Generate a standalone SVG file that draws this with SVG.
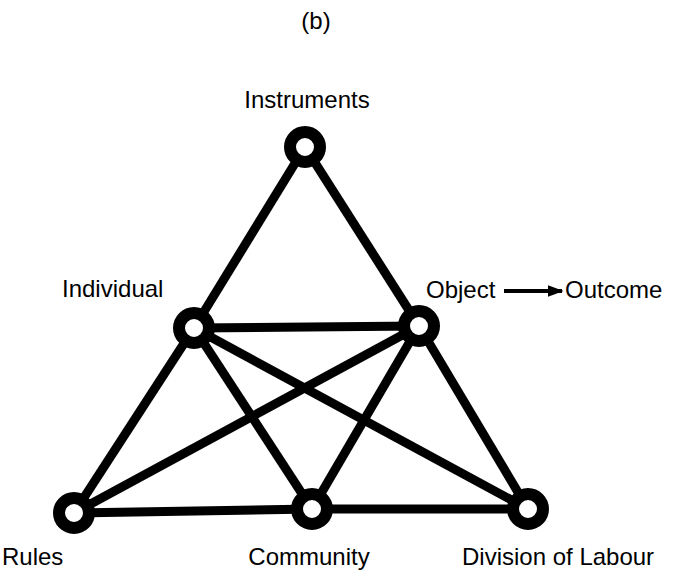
<svg xmlns="http://www.w3.org/2000/svg" width="681" height="572" viewBox="0 0 681 572">
  <style>
    .lbl { font-family: "Liberation Sans", Arial, sans-serif; font-size: 24px; fill: #000; }
    .edge { stroke: #000; stroke-width: 9; stroke-linecap: butt; fill: none; }
    .node { fill: #fff; stroke: #000; stroke-width: 12; }
  </style>
  <defs>
    <marker id="arrowhead" markerWidth="4" markerHeight="3" refX="3.6" refY="1.5" orient="auto" markerUnits="strokeWidth">
      <path d="M0,0 L4,1.5 L0,3 Z" fill="#000"/>
    </marker>
  </defs>
  <rect width="681" height="572" fill="#fff"/>

  <text class="lbl" x="316" y="29" text-anchor="middle">(b)</text>

  <g id="connectors">
    <line class="edge" x1="305" y1="147" x2="194" y2="328"/>
    <line class="edge" x1="305" y1="147" x2="419" y2="326"/>
    <line class="edge" x1="194" y1="328" x2="419" y2="326"/>
    <line class="edge" x1="194" y1="328" x2="74" y2="513"/>
    <line class="edge" x1="194" y1="328" x2="312" y2="509"/>
    <line class="edge" x1="194" y1="328" x2="528" y2="509"/>
    <line class="edge" x1="419" y1="326" x2="74" y2="513"/>
    <line class="edge" x1="419" y1="326" x2="312" y2="509"/>
    <line class="edge" x1="419" y1="326" x2="528" y2="509"/>
    <line class="edge" x1="74" y1="513" x2="312" y2="509"/>
    <line class="edge" x1="312" y1="509" x2="528" y2="509"/>
    <line x1="504" y1="291" x2="562" y2="291" stroke="#000" stroke-width="4" marker-end="url(#arrowhead)"/>
  </g>

  <g id="instruments">
    <circle class="node" cx="305" cy="147" r="15"/>
    <text class="lbl" x="307" y="108" text-anchor="middle">Instruments</text>
  </g>
  <g id="individual">
    <circle class="node" cx="194" cy="328" r="15"/>
    <text class="lbl" x="62" y="297">Individual</text>
  </g>
  <g id="object">
    <circle class="node" cx="419" cy="326" r="15"/>
    <text class="lbl" x="426" y="298">Object</text>
  </g>
  <g id="outcome">
    <text class="lbl" x="565" y="298">Outcome</text>
  </g>
  <g id="rules">
    <circle class="node" cx="74" cy="513" r="15"/>
    <text class="lbl" x="2" y="565">Rules</text>
  </g>
  <g id="community">
    <circle class="node" cx="312" cy="509" r="15"/>
    <text class="lbl" x="309" y="565" text-anchor="middle">Community</text>
  </g>
  <g id="division-of-labour">
    <circle class="node" cx="528" cy="509" r="15"/>
    <text class="lbl" x="462" y="565">Division of Labour</text>
  </g>
</svg>
